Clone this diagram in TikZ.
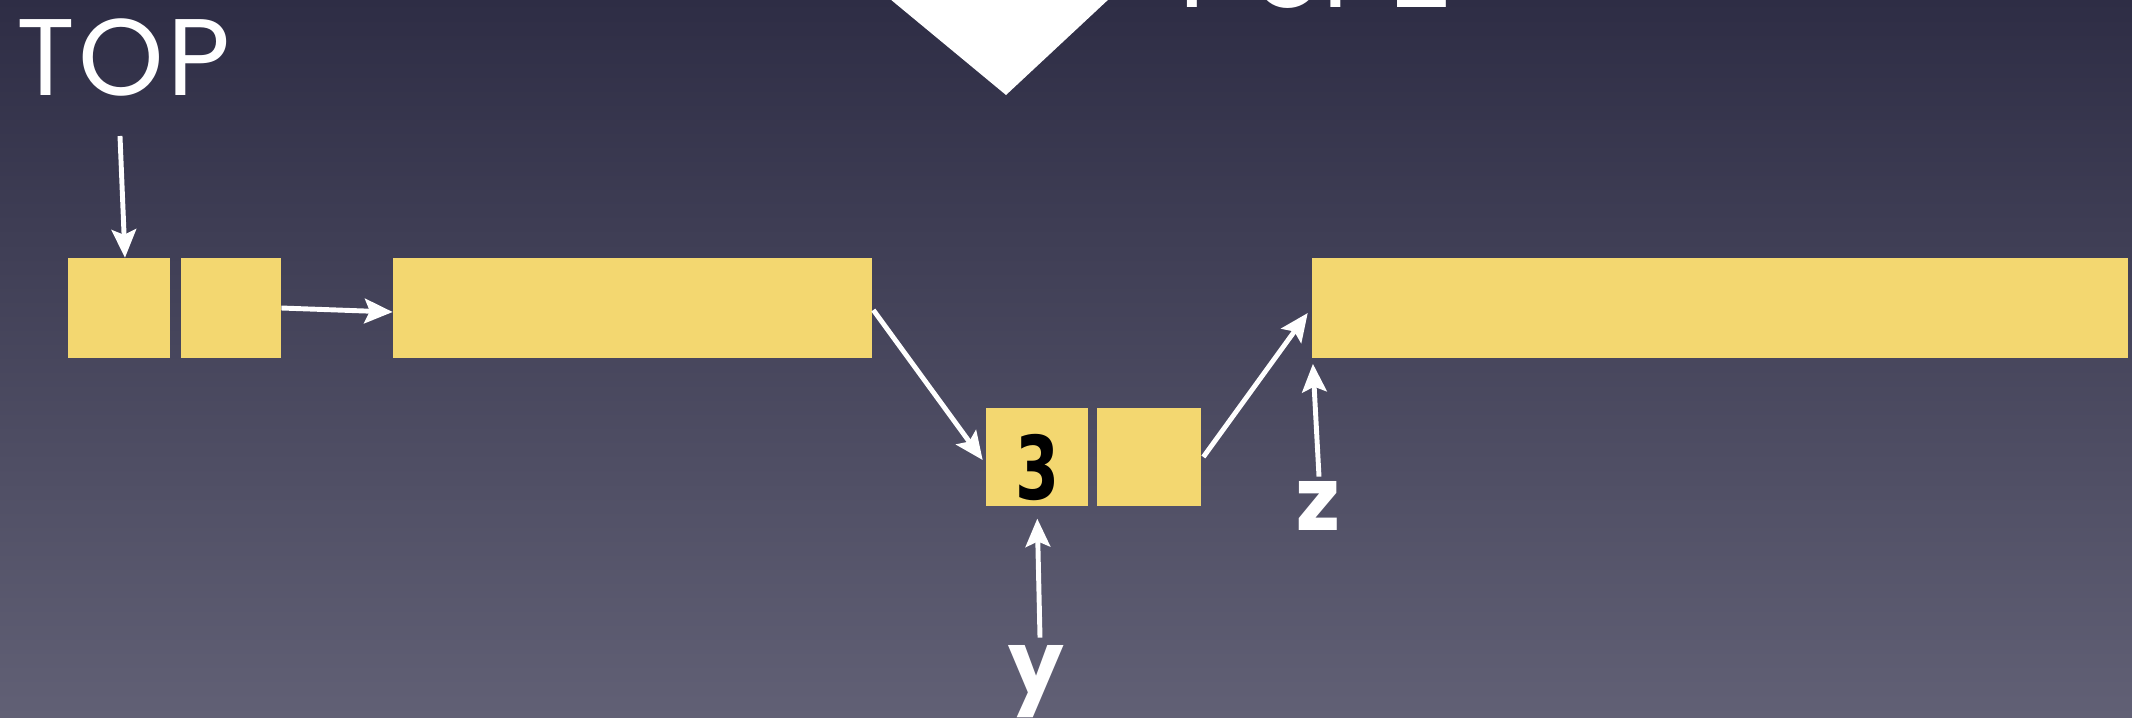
\documentclass[tikz,border=0pt]{standalone}
\usepackage{fontspec}
\setmainfont{Poppins}
\newfontfamily\digitfont{DejaVu Sans}
\usetikzlibrary{arrows.meta,calc}

\definecolor{bgtop}{RGB}{46,45,69}
\definecolor{bgbottom}{RGB}{97,96,117}
\definecolor{cell}{RGB}{243,215,112}

\tikzset{
  cellbox/.style={fill=cell, draw=none, inner sep=0pt, minimum height=2cm},
  link/.style={draw=white, line width=2.8pt,
    -{Stealth[length=16pt, width=14pt, inset=3pt]}},
  biglabel/.style={text=white, inner sep=0pt, font=\fontsize{62pt}{62pt}\selectfont},
  varlabel/.style={text=white, inner sep=0pt, font=\fontsize{50pt}{50pt}\selectfont\bfseries},
  cellvalue/.style={text=black, inner sep=0pt, font=\digitfont\bfseries\fontsize{50pt}{50pt}\selectfont},
}

\begin{document}
\begin{tikzpicture}[x=0.02cm, y=-0.02cm]
  % page and background
  \useasboundingbox (0,0) rectangle (2132,717);
  \shade[top color=bgtop, bottom color=bgbottom] (0,0) rectangle (2132,717);

  % big downward pointer at the top
  \fill[white] (855,-30) -- (1140,-30) -- (1006,95) -- cycle;

  % titles
  \node[biglabel, anchor=base west] (toptxt) at (16,95) {T\kern2ptO\kern2ptP};
  \node[biglabel, anchor=base west] (choice) at (1160,7) {Y or Z};

  % list cells
  \node[cellbox, minimum width=2.04cm] (b1) at (119,308) {};
  \node[cellbox, minimum width=2.00cm] (b2) at (231,308) {};
  \node[cellbox, minimum width=9.58cm] (a)  at (632.5,308) {};
  \node[cellbox, minimum width=2.04cm, minimum height=1.96cm] (b3) at (1037,457) {};
  \node[cellbox, minimum width=2.08cm, minimum height=1.96cm] (b4) at (1149,457) {};
  \node[cellbox, minimum width=16.32cm] (bb) at (1720,308) {};

  % value stored in the new cell
  \node[cellvalue] (val) at ($(b3.center)+(0,11)$) {\scalebox{0.72}[1]{3}};

  % variable labels
  \node[varlabel, anchor=base] (zl) at (1318,530) {z};
  \node[varlabel, anchor=base] (yl) at (1036,694) {y};

  % pointer start points
  \coordinate (topstart) at (120,136);

  % pointers
  \draw[link] (topstart) -- ($(b1.north)+(6,0)$);
  \draw[link] (b2.east) -- ($(a.west)+(0,4)$);
  \draw[link] ($(a.east)+(1,2)$) -- ($(b3.west)+(-3,3)$);
  \draw[link] ($(b4.east)+(2,0)$) -- ($(bb.west)+(-4,5)$);
  \draw[link, shorten >=2pt] ($(zl.north)+(1,-4)$) -- ($(bb.south west)+(1,2)$);
  \draw[link, shorten >=7pt] ($(yl.north)+(4,-7)$) -- (b3.south);
\end{tikzpicture}
\end{document}
